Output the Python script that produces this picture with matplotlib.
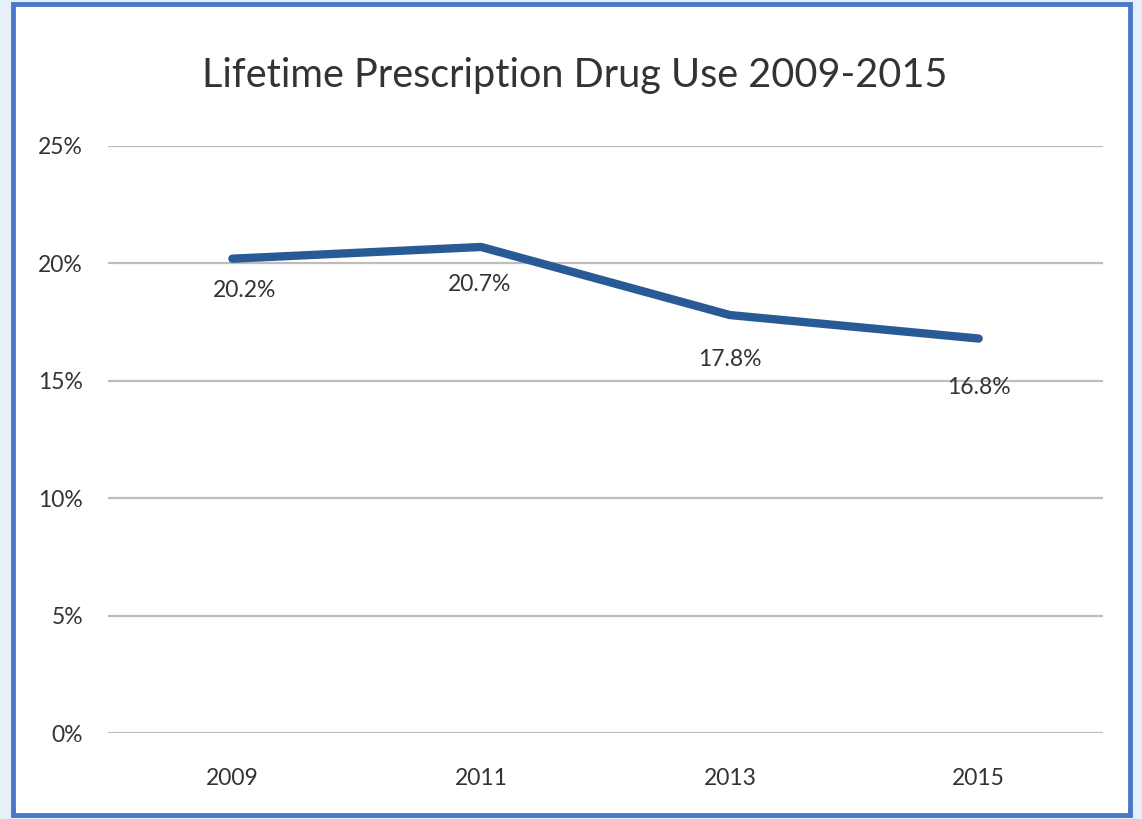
import matplotlib.pyplot as plt
from matplotlib.patches import Rectangle

plt.rcParams['font.family'] = ['Lato', 'DejaVu Sans']

years = ['2009', '2011', '2013', '2015']
use_pct = [20.2, 20.7, 17.8, 16.8]
y_ticks = [0, 5, 10, 15, 20, 25]

fig = plt.figure(figsize=(11.42, 8.19), dpi=100)
fig.patch.set_facecolor('#e6f0f8')

# white panel with blue frame, kept behind the axes
fig.patches.append(Rectangle((13 / 1142, 4 / 819), 1117 / 1142, 811 / 819,
                             transform=fig.transFigure, facecolor='white',
                             edgecolor='#4a78c8', linewidth=3.5, zorder=-5))

ax = fig.add_axes([108 / 1142, 86 / 819, 995 / 1142, 587 / 819])
ax.set_facecolor('none')

x = range(len(years))
ax.plot(x, use_pct, color='#285b96', linewidth=6, solid_capstyle='round',
        solid_joinstyle='round', zorder=3)

offsets = [(9, -23), (-1, -27), (0, -32), (0, -35)]
for i, v in enumerate(use_pct):
    ax.annotate(f'{v}%', (i, v), xytext=offsets[i], textcoords='offset points',
                ha='center', va='center', fontsize=16.5, color='#333333')

ax.set_xlim(-0.5, len(years) - 0.5)
ax.set_ylim(0, 25)
ax.set_yticks(y_ticks)
ax.set_yticklabels([f'{t}%' for t in y_ticks])
ax.set_xticks(list(x))
ax.set_xticklabels(years)
ax.yaxis.grid(True, color='#bdbdbd', linewidth=1.6)
ax.set_axisbelow(True)
for s in ax.spines.values():
    s.set_visible(False)
ax.tick_params(length=0, labelsize=16.5, colors='#333333')
ax.tick_params(axis='y', pad=18)
ax.tick_params(axis='x', pad=25)

fig.text(575 / 1142, 1 - 75 / 819, 'Lifetime Prescription Drug Use 2009-2015',
         ha='center', va='center', fontsize=28.5, color='#333333')

fig.savefig('out.png', dpi=100, facecolor=fig.get_facecolor())
